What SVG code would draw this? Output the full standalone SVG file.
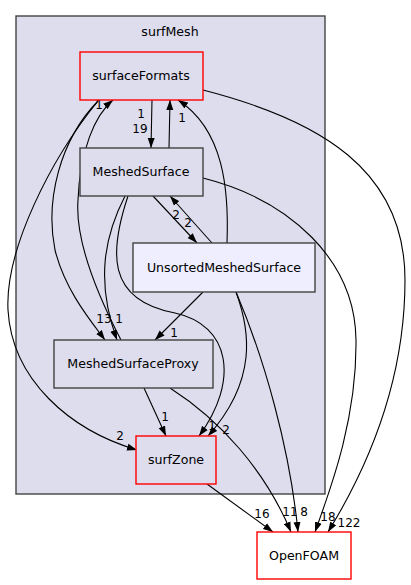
<svg xmlns="http://www.w3.org/2000/svg" width="411" height="585" viewBox="0 0 411 585">
<style>
text{font-family:"DejaVu Sans","Liberation Sans",sans-serif;fill:#000}
.n{font-size:12.6px;text-anchor:middle}
.l{font-size:12px;text-anchor:middle}
.box{stroke:#404040;stroke-width:1.4;fill:#ddddee}
.red{stroke:#ff0000;stroke-width:1.4;fill:#ddddee}
.e{fill:none;stroke:#000;stroke-width:1.1;marker-end:url(#ah)}
</style>
<defs>
<marker id="ah" markerWidth="10" markerHeight="8" refX="10" refY="4" orient="auto" markerUnits="userSpaceOnUse">
<path d="M0,0.5 L10,4 L0,7.5 z" fill="#000"/>
</marker>
</defs>
<rect width="411" height="585" fill="#fff"/>
<g id="cluster_surfMesh">
<rect x="16" y="16" width="309" height="478" fill="#ddddee" stroke="#444" stroke-width="1.4"/>
<text class="n" x="170" y="36">surfMesh</text>
</g>
<g id="edges">
<path class="e" d="M152,100 L151,148"/>
<path class="e" d="M169,148 L170,100"/>
<path class="e" d="M227,243 C229,190 224,130 178,100"/>
<path class="e" d="M121,340 C95,290 75,240 78,200 C80,150 95,115 113,100"/>
<path class="e" d="M98,101 C60,140 45,200 55,250 C65,290 90,320 105,340"/>
<path class="e" d="M98,101 C50,160 5,250 8,310 C12,380 70,430 137,450"/>
<path class="e" d="M125,196 C105,235 95,280 117,340"/>
<path class="e" d="M128,196 C110,250 105,300 175,313 C230,325 240,380 199,436"/>
<path class="e" d="M153,196 L197,243"/>
<path class="e" d="M212,243 L170,196"/>
<path class="e" d="M203,292 L155,340"/>
<path class="e" d="M236,292 C250,330 258,380 208,436"/>
<path class="e" d="M236,292 C265,360 290,450 298,532"/>
<path class="e" d="M203,178 C290,200 355,260 356,340 C357,420 330,490 315,532"/>
<path class="e" d="M203,90 C320,120 405,170 405,280 C405,390 360,480 328,532"/>
<path class="e" d="M170,388 C220,420 265,470 291,532"/>
<path class="e" d="M207,484 L273,532"/>
<path class="e" d="M144,388 L166,436"/>
<text class="l" x="140" y="133">19</text>
<text class="l" x="141" y="118">1</text>
<text class="l" x="182" y="122">1</text>
<text class="l" x="99" y="109">1</text>
<text class="l" x="104" y="323">13</text>
<text class="l" x="119" y="323">1</text>
<text class="l" x="120" y="440">2</text>
<text class="l" x="165" y="421">1</text>
<text class="l" x="212" y="430">1</text>
<text class="l" x="226" y="434">2</text>
<text class="l" x="176" y="219">2</text>
<text class="l" x="188" y="227">2</text>
<text class="l" x="174" y="337">1</text>
<text class="l" x="262" y="518">16</text>
<text class="l" x="290" y="516">11</text>
<text class="l" x="304" y="516">8</text>
<text class="l" x="328" y="521">18</text>
<text class="l" x="349" y="527">122</text>
</g>
<g id="node_surfaceFormats">
<rect class="red" x="80" y="52" width="123" height="48"/>
<text class="n" x="141" y="80">surfaceFormats</text>
</g>
<g id="node_MeshedSurface">
<rect class="box" x="80" y="148" width="123" height="48"/>
<text class="n" x="141" y="176">MeshedSurface</text>
</g>
<g id="node_UnsortedMeshedSurface">
<rect class="box" x="133" y="243" width="182" height="49" style="fill:#eeeeff"/>
<text class="n" x="224" y="272">UnsortedMeshedSurface</text>
</g>
<g id="node_MeshedSurfaceProxy">
<rect class="box" x="54" y="340" width="159" height="48"/>
<text class="n" x="133" y="368">MeshedSurfaceProxy</text>
</g>
<g id="node_surfZone">
<rect class="red" x="136" y="436" width="80" height="48"/>
<text class="n" x="176" y="464">surfZone</text>
</g>
<g id="node_OpenFOAM">
<rect class="red" x="257" y="532" width="94" height="47" style="fill:#fff"/>
<text class="n" x="304" y="560">OpenFOAM</text>
</g>
</svg>
